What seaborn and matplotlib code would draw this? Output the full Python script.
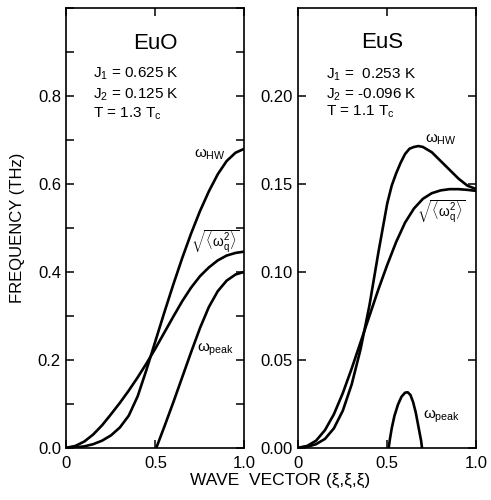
import numpy as np
import pandas as pd
import seaborn as sns
import matplotlib
matplotlib.use('Agg')
import matplotlib.pyplot as plt
from matplotlib.ticker import MultipleLocator, FixedLocator

# EuO curves (xi, frequency in THz)
euo_hw_x = [0, 0.05, 0.1, 0.15, 0.2, 0.25, 0.3, 0.35, 0.4, 0.45, 0.5, 0.55, 0.6, 0.65, 0.7, 0.75, 0.8, 0.85, 0.9, 0.95, 1.0]
euo_hw_y = [0, 0.0005, 0.003, 0.008, 0.016, 0.028, 0.046, 0.073, 0.117, 0.178, 0.243, 0.308, 0.371, 0.431, 0.487, 0.538, 0.583, 0.622, 0.652, 0.671, 0.68]
euo_sq_x = [0, 0.05, 0.1, 0.15, 0.2, 0.25, 0.3, 0.35, 0.4, 0.45, 0.5, 0.55, 0.6, 0.65, 0.7, 0.75, 0.8, 0.85, 0.9, 0.95, 1.0]
euo_sq_y = [0, 0.004, 0.014, 0.03, 0.051, 0.076, 0.102, 0.13, 0.16, 0.192, 0.226, 0.262, 0.298, 0.333, 0.364, 0.39, 0.41, 0.426, 0.437, 0.443, 0.446]
euo_pk_x = [0.505, 0.55, 0.6, 0.65, 0.7, 0.75, 0.8, 0.85, 0.9, 0.95, 1.0]
euo_pk_y = [0, 0.048, 0.103, 0.16, 0.217, 0.272, 0.32, 0.356, 0.38, 0.394, 0.40]

# EuS curves
eus_hw_x = [0, 0.05, 0.1, 0.15, 0.2, 0.25, 0.3, 0.35, 0.4, 0.45, 0.5, 0.525, 0.55, 0.575, 0.6, 0.625, 0.65, 0.675, 0.7, 0.75, 0.8, 0.85, 0.9, 0.95, 1.0]
eus_hw_y = [0, 0.0005, 0.002, 0.005, 0.011, 0.021, 0.036, 0.056, 0.081, 0.111, 0.139, 0.149, 0.156, 0.162, 0.167, 0.170, 0.171, 0.1715, 0.171, 0.168, 0.163, 0.158, 0.153, 0.149, 0.147]
eus_sq_x = [0, 0.05, 0.1, 0.15, 0.2, 0.25, 0.3, 0.35, 0.4, 0.45, 0.5, 0.55, 0.6, 0.65, 0.7, 0.75, 0.8, 0.85, 0.9, 0.95, 1.0]
eus_sq_y = [0, 0.001, 0.004, 0.010, 0.019, 0.031, 0.045, 0.06, 0.075, 0.09, 0.104, 0.117, 0.128, 0.136, 0.1415, 0.1447, 0.1463, 0.147, 0.147, 0.1466, 0.146]
eus_pk_x = [0.508, 0.515, 0.525, 0.54, 0.56, 0.58, 0.6, 0.615, 0.63, 0.645, 0.66, 0.675, 0.69, 0.695]
eus_pk_y = [0, 0.005, 0.011, 0.018, 0.0245, 0.029, 0.0313, 0.0315, 0.030, 0.026, 0.020, 0.012, 0.004, 0]

euo_params = ['J$_1$ = 0.625 K', 'J$_2$ = 0.125 K', 'T = 1.3 T$_\\mathrm{c}$']
eus_params = ['J$_1$ =  0.253 K', 'J$_2$ = -0.096 K', 'T = 1.1 T$_\\mathrm{c}$']

sns.set_style('ticks')
plt.rcParams['font.family'] = ['Liberation Sans', 'DejaVu Sans']
plt.rcParams['mathtext.fontset'] = 'custom'
plt.rcParams['mathtext.rm'] = 'Liberation Sans'
plt.rcParams['mathtext.it'] = 'Liberation Sans'
plt.rcParams['mathtext.bf'] = 'Liberation Sans:bold'
plt.rcParams['text.color'] = 'k'
plt.rcParams['axes.labelcolor'] = 'k'

fig = plt.figure(figsize=(4.91, 5.0), dpi=100)
ax1 = fig.add_axes([0.1354, 0.1046, 0.3625, 0.8794])
ax2 = fig.add_axes([0.6075, 0.1046, 0.3625, 0.8794])

lw = 1.9
for xs, ys in [(euo_hw_x, euo_hw_y), (euo_sq_x, euo_sq_y), (euo_pk_x, euo_pk_y)]:
  sns.lineplot(x=xs, y=ys, color='k', lw=lw, ax=ax1)
for xs, ys in [(eus_hw_x, eus_hw_y), (eus_sq_x, eus_sq_y), (eus_pk_x, eus_pk_y)]:
  sns.lineplot(x=xs, y=ys, color='k', lw=lw, ax=ax2)

ax1.set_xlim(0, 1)
ax1.set_ylim(0, 1.0)
ax2.set_xlim(0, 1)
ax2.set_ylim(0, 0.25)

ax1.yaxis.set_major_locator(FixedLocator([0, 0.2, 0.4, 0.6, 0.8]))
ax1.set_yticklabels(['0.0', '0.2', '0.4', '0.6', '0.8'])
ax1.yaxis.set_minor_locator(MultipleLocator(0.1))
ax2.yaxis.set_major_locator(FixedLocator([0, 0.05, 0.10, 0.15, 0.20]))
ax2.set_yticklabels(['0.00', '0.05', '0.10', '0.15', '0.20'])

for ax in (ax1, ax2):
  ax.xaxis.set_major_locator(FixedLocator([0, 0.5, 1.0]))
  ax.set_xticklabels(['0', '0.5', '1.0'])
  ax.tick_params(which='both', direction='in', top=True, right=True,
                 length=6, width=1.1, labelsize=12, color='k', labelcolor='k')
  ax.tick_params(axis='x', pad=6)
  ax.tick_params(axis='y', pad=4)
  for s in ax.spines.values():
    s.set_linewidth(1.2)
    s.set_color('k')
  ax.set_xlabel('')
  ax.set_ylabel('')

# titles and parameters
ax1.text(0.497, 0.906, 'EuO', transform=ax1.transAxes, ha='center', va='baseline', fontsize=16)
ax2.text(0.473, 0.909, 'EuS', transform=ax2.transAxes, ha='center', va='baseline', fontsize=16)
for i, (yb1, yb2) in enumerate(zip([0.841, 0.795, 0.751], [0.840, 0.794, 0.756])):
  ax1.text(0.149, yb1, euo_params[i], transform=ax1.transAxes, ha='left', va='baseline', fontsize=11)
  ax2.text(0.156, yb2, eus_params[i], transform=ax2.transAxes, ha='left', va='baseline', fontsize=11)

# curve labels
hw = r'$\omega_{\mathrm{HW}}$'
sq = r'$\sqrt{\langle\omega_q^2\rangle}$'
pk = r'$\omega_{\mathrm{peak}}$'
ax1.text(0.716, 0.666, hw, transform=ax1.transAxes, ha='left', va='center', fontsize=11)
ax1.text(0.70, 0.468, sq, transform=ax1.transAxes, ha='left', va='center', fontsize=10)
ax1.text(0.731, 0.222, pk, transform=ax1.transAxes, ha='left', va='center', fontsize=11)
ax2.text(0.712, 0.701, hw, transform=ax2.transAxes, ha='left', va='center', fontsize=11)
ax2.text(0.667, 0.537, sq, transform=ax2.transAxes, ha='left', va='center', fontsize=10)
ax2.text(0.70, 0.07, pk, transform=ax2.transAxes, ha='left', va='center', fontsize=11)

ax1.set_ylabel('FREQUENCY (THz)', fontsize=12)
ax1.yaxis.set_label_coords(-0.235, 0.5)
fig.text(280 / 491, 1 - 480 / 500, 'WAVE  VECTOR (ξ,ξ,ξ)', ha='center', va='center', fontsize=12.5)

fig.savefig('out.png', dpi=100, facecolor='white')
